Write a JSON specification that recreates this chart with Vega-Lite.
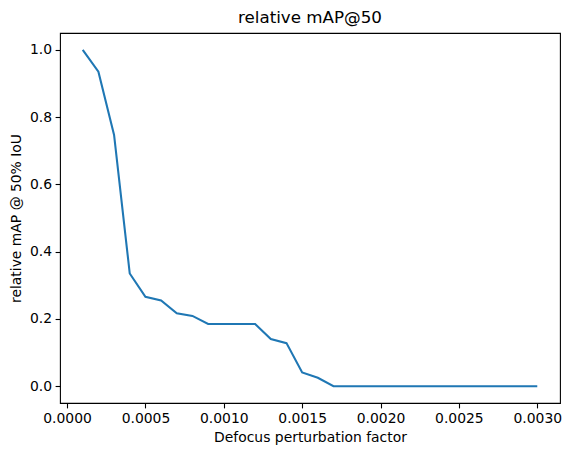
{
  "$schema": "https://vega.github.io/schema/vega-lite/v6.json",
  "width": 500,
  "height": 370,
  "autosize": {"type": "none"},
  "padding": {"left": 60, "top": 33, "right": 8, "bottom": 52},
  "background": "white",
  "title": {"text": "relative mAP@50", "font": "DejaVu Sans", "fontSize": 16.7, "fontWeight": "normal", "color": "black", "anchor": "middle", "offset": 6},
  "config": {
    "view": {"stroke": "black", "strokeWidth": 1.1},
    "axis": {"domain": false, "grid": false, "tickColor": "black", "tickSize": 4.9, "tickWidth": 1.1, "labelPadding": 3.5, "labelFont": "DejaVu Sans", "labelFontSize": 13.9, "labelColor": "black", "titleFont": "DejaVu Sans", "titleFontSize": 13.9, "titleFontWeight": "normal", "titleColor": "black"}
  },
  "data": {"values": [
    {"x": 0.0001, "y": 1.0},
    {"x": 0.0002, "y": 0.935},
    {"x": 0.0003, "y": 0.747},
    {"x": 0.0004, "y": 0.335},
    {"x": 0.0005, "y": 0.266},
    {"x": 0.0006, "y": 0.255},
    {"x": 0.0007, "y": 0.217},
    {"x": 0.0008, "y": 0.209},
    {"x": 0.0009, "y": 0.185},
    {"x": 0.0010, "y": 0.185},
    {"x": 0.0011, "y": 0.185},
    {"x": 0.0012, "y": 0.185},
    {"x": 0.0013, "y": 0.140},
    {"x": 0.0014, "y": 0.128},
    {"x": 0.0015, "y": 0.041},
    {"x": 0.0016, "y": 0.025},
    {"x": 0.0017, "y": 0.0},
    {"x": 0.0018, "y": 0.0},
    {"x": 0.0019, "y": 0.0},
    {"x": 0.0020, "y": 0.0},
    {"x": 0.0021, "y": 0.0},
    {"x": 0.0022, "y": 0.0},
    {"x": 0.0023, "y": 0.0},
    {"x": 0.0024, "y": 0.0},
    {"x": 0.0025, "y": 0.0},
    {"x": 0.0026, "y": 0.0},
    {"x": 0.0027, "y": 0.0},
    {"x": 0.0028, "y": 0.0},
    {"x": 0.0029, "y": 0.0},
    {"x": 0.0030, "y": 0.0}
  ]},
  "mark": {"type": "line", "color": "#1f77b4", "strokeWidth": 2.08, "clip": true},
  "encoding": {
    "x": {"field": "x", "type": "quantitative", "scale": {"domain": [-0.000045, 0.003145], "nice": false, "zero": false},
      "axis": {"title": "Defocus perturbation factor", "values": [0, 0.0005, 0.001, 0.0015, 0.002, 0.0025, 0.003], "format": ".4f", "titlePadding": 5, "labelFlush": false}},
    "y": {"field": "y", "type": "quantitative", "scale": {"domain": [-0.05, 1.05], "nice": false, "zero": false},
      "axis": {"title": "relative mAP @ 50% IoU", "values": [0, 0.2, 0.4, 0.6, 0.8, 1.0], "format": ".1f", "titlePadding": 6}}
  }
}
